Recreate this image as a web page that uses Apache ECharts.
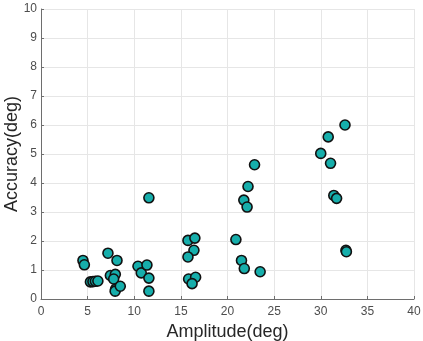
<!DOCTYPE html>
<html><head><meta charset="utf-8">
<script src="https://cdn.jsdelivr.net/npm/echarts@6/dist/echarts.min.js"></script>
<style>html,body{margin:0;padding:0;background:#fff}#c{width:423px;height:341px}</style>
</head><body><div id="c"></div>
<script>
const amplitude = [4.5,4.65,5.3,5.57,5.83,6.1,7.18,8.15,7.44,7.97,7.79,8.0,7.95,8.5,
  10.4,10.75,11.36,11.57,11.57,11.57,
  15.76,16.5,16.4,15.76,15.83,16.58,16.2,
  20.9,21.5,21.8,23.5,22.9,22.2,21.75,22.1,
  32.6,30.8,30.0,31.05,31.4,31.7,32.7,32.75];
const accuracy = [1.33,1.18,0.59,0.6,0.61,0.62,1.58,1.33,0.81,0.85,0.69,0.34,0.27,0.44,
  1.13,0.9,1.17,0.72,0.27,3.49,
  2.02,2.1,1.68,1.45,0.69,0.75,0.53,
  2.05,1.33,1.05,0.94,4.63,3.88,3.41,3.17,
  6.0,5.59,5.02,4.68,3.57,3.47,1.68,1.63];
const xTicks = {min:0,max:40,interval:5};
const yTicks = {min:0,max:10,interval:1};
const points = amplitude.map((a,i)=>[a,accuracy[i]]);
const chart = echarts.init(document.getElementById('c'));
const font = 'Liberation Sans, Arial, sans-serif';
chart.setOption({
  animation:false,
  grid:{left:41,right:9,top:9,bottom:42,containLabel:false,outerBoundsMode:'none'},
  xAxis:{type:'value',min:xTicks.min,max:xTicks.max,interval:xTicks.interval,
    name:'Amplitude(deg)',nameLocation:'middle',nameGap:24,nameMoveOverlap:false,
    nameTextStyle:{fontSize:18,color:'#262626',fontFamily:font},
    axisLine:{show:true,lineStyle:{color:'#6e6e6e',width:1}},
    axisTick:{show:true,inside:true,length:3,lineStyle:{color:'#6e6e6e'}},
    axisLabel:{fontSize:12,color:'#4d4d4d',fontFamily:font,margin:7},
    splitLine:{show:true,lineStyle:{color:'#e6e6e6',width:1}}},
  yAxis:{type:'value',min:yTicks.min,max:yTicks.max,interval:yTicks.interval,
    name:'Accuracy(deg)',nameLocation:'middle',nameGap:20,nameRotate:90,nameMoveOverlap:false,
    nameTextStyle:{fontSize:18,color:'#262626',fontFamily:font},
    axisLine:{show:true,lineStyle:{color:'#6e6e6e',width:1}},
    axisTick:{show:true,inside:true,length:3,lineStyle:{color:'#6e6e6e'}},
    axisLabel:{fontSize:12,color:'#4d4d4d',fontFamily:font,margin:4},
    splitLine:{show:true,lineStyle:{color:'#e6e6e6',width:1}}},
  series:[{type:'scatter',data:points,symbol:'circle',symbolSize:10,
    itemStyle:{color:'#16aeab',borderColor:'#111',borderWidth:1.6,opacity:1}}]
});
</script></body></html>
